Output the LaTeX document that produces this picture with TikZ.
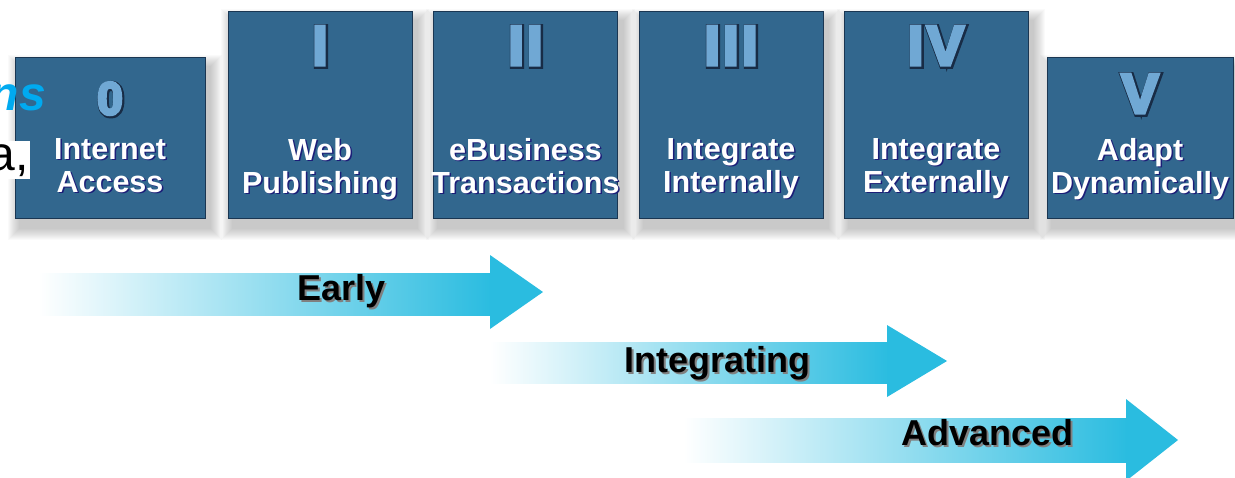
\documentclass[tikz,border=0pt]{standalone}
\usepackage{fontspec}
\setmainfont{Liberation Sans}
\newfontfamily\numfont[FakeBold=6, LetterSpace=6]{Liberation Sans}
\newfontfamily\numedgefont[FakeBold=11, LetterSpace=6]{Liberation Sans}
\usetikzlibrary{positioning}
\definecolor{stageblue}{RGB}{50,103,142}
\definecolor{stageedge}{RGB}{26,54,82}
\definecolor{numblue}{RGB}{112,168,212}
\definecolor{numedge}{RGB}{24,44,70}
\definecolor{capshade}{RGB}{28,30,120}
\definecolor{arrcyan}{RGB}{42,188,224}
\definecolor{skyblue}{RGB}{0,170,240}
\pgfdeclarelayer{back}
\pgfsetlayers{back,main}
\tikzset{>=stealth,
  stagebox/.style={fill=stageblue, draw=stageedge, line width=0.8pt, minimum width=184pt, minimum height=207pt, inner sep=0pt},
  numeral/.style={font=\numfont\bfseries\fontsize{#1}{#1}\selectfont, inner sep=0pt, text=numblue},
  numeraledge/.style={font=\numedgefont\bfseries\fontsize{#1}{#1}\selectfont, inner sep=0pt, text=numedge},
  caption/.style={font=\bfseries\fontsize{30.5}{33}\selectfont, align=center, inner sep=0pt, execute at begin node=\strut, execute at end node=\strut},
  phase/.style={font=\bfseries\fontsize{36}{36}\selectfont, inner sep=0pt, anchor=base},
  phasebar/.style={left color=white, right color=arrcyan},
}

\begin{document}
\begin{tikzpicture}[x=1pt,y=-1pt]
\useasboundingbox (0,0) rectangle (1235,477);
% stages
\node[stagebox, minimum width=190pt, minimum height=161pt] (S0) at (110,137.5) {};
\node[stagebox] (S1) at (320,114.5) {};
\node[stagebox] (S2) at (525.5,114.5) {};
\node[stagebox] (S3) at (731,114.5) {};
\node[stagebox] (S4) at (936,114.5) {};
\node[stagebox, minimum width=186pt, minimum height=161pt] (S5) at (1140,137.5) {};
\begin{pgfonlayer}{back}
\foreach \s in {S0,S1,S2,S3,S4,S5}
  \foreach \k in {1,...,12}
    \fill[black, opacity=0.02] ([shift={(5-\k,10-\k)}]\s.north west) rectangle ([shift={(5+\k,10+\k)}]\s.south east);
\end{pgfonlayer}
% left over words of the slide
\node[anchor=base east, inner sep=0pt, text=skyblue, font=\bfseries\itshape\fontsize{48}{48}\selectfont] (ns) at (46,110) {ns};
\node[anchor=base east, inner xsep=1pt, inner ysep=3pt, fill=white, font=\fontsize{48}{48}\selectfont] (acomma) at (30,170) {a,};
% numerals
\foreach \s/\r/\d/\f in {S0/0/42/46, S1/I/35/56, S2/II/35/56, S3/III/35/56, S4/IV/35/56, S5/V/37/56}{
  \node[numeraledge=\f] at ([xshift=1pt,yshift=-\d pt-1pt]\s.north) {\r};
  \node[numeral=\f] (N\s) at ([yshift=-\d pt]\s.north) {\r};
}
% captions
\foreach \s/\t in {S0/{Internet\\Access}, S1/{Web\\Publishing}, S2/{eBusiness\\Transactions}, S3/{Integrate\\Internally}, S4/{Integrate\\Externally}, S5/{Adapt\\Dynamically}}{
  \node[caption, text=capshade] at ([xshift=1.5pt,yshift=46.5pt]\s.south) {\t};
  \node[caption, text=white] (C\s) at ([yshift=48pt]\s.south) {\t};
}
% phases
\shade[phasebar] (38,273) rectangle (492,315);
\fill[arrcyan] (490,255) -- (543,292) -- (490,329) -- cycle;
\shade[phasebar] (490,342) rectangle (889,383);
\fill[arrcyan] (887,325) -- (947,361) -- (887,397) -- cycle;
\shade[phasebar] (683,418) rectangle (1128,462);
\fill[arrcyan] (1126,399) -- (1178,440) -- (1126,481) -- cycle;
\node[phase, text=gray] at (343.5,302) {Early};
\node[phase] (early) at (341.5,300) {Early};
\node[phase, text=gray] at (719.5,374) {Integrating};
\node[phase] (integrating) at (717.5,372) {Integrating};
\node[phase, text=gray] at (989.5,447) {Advanced};
\node[phase] (advanced) at (987.5,445) {Advanced};
\end{tikzpicture}
\end{document}
